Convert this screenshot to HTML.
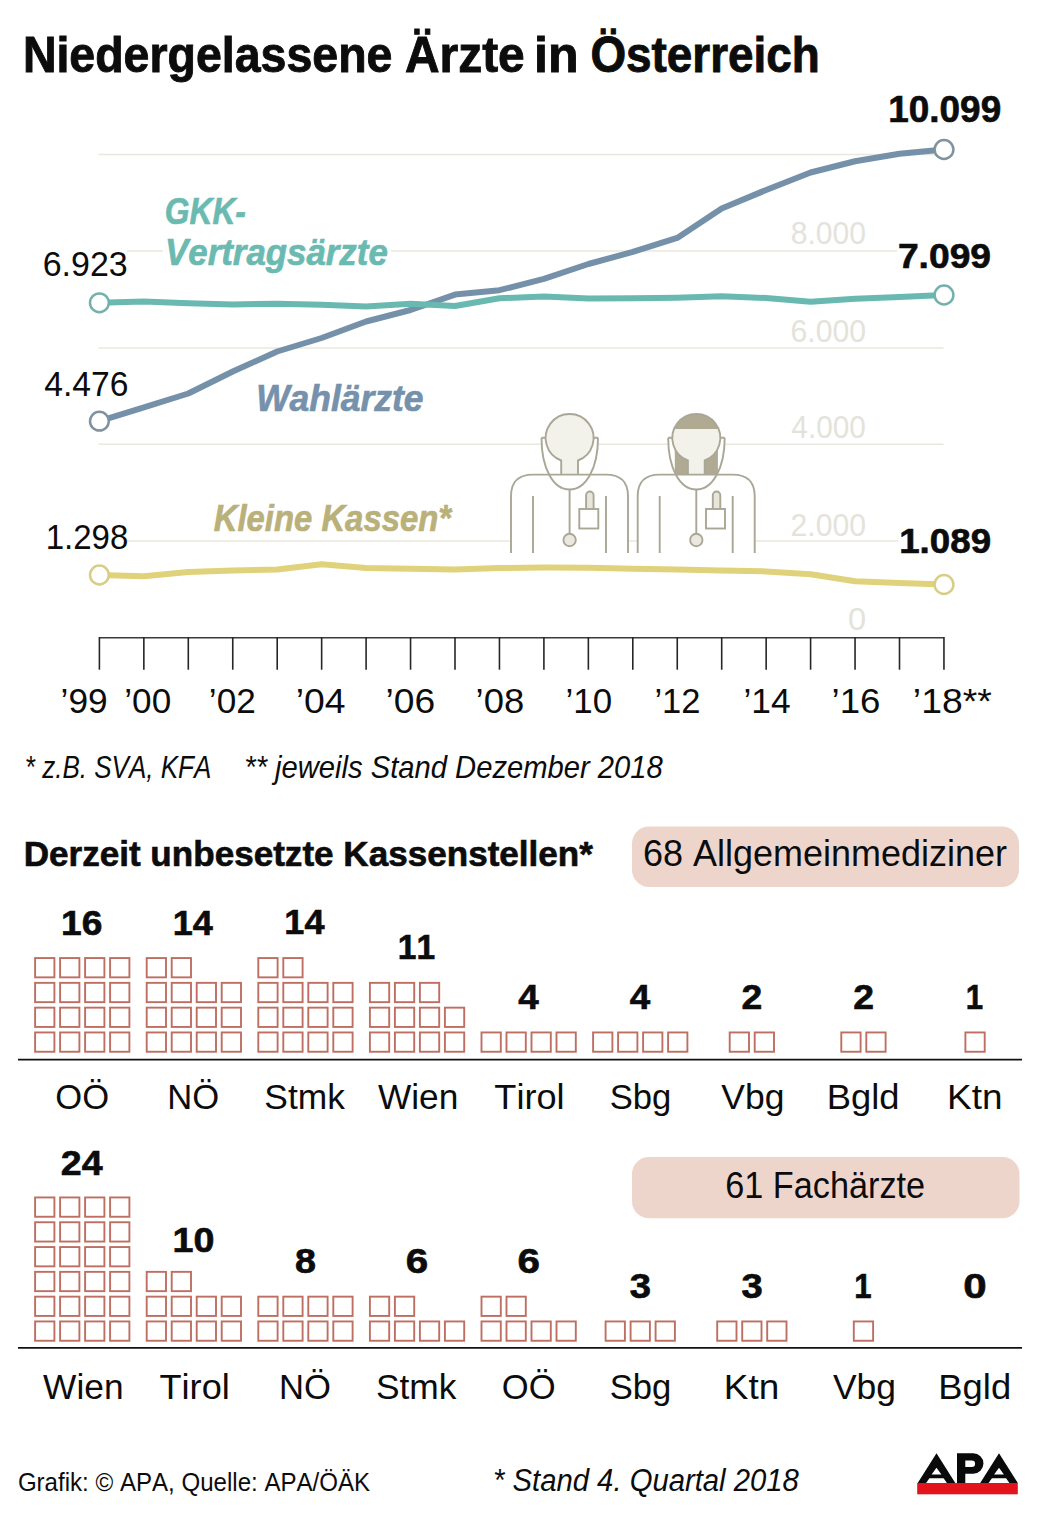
<!DOCTYPE html>
<html><head><meta charset="utf-8"><style>
html,body{margin:0;padding:0;background:#fff;}
svg{display:block;}
text{font-family:"Liberation Sans",sans-serif;font-kerning:none;}
</style></head><body>
<svg width="1040" height="1513" viewBox="0 0 1040 1513">
<rect width="1040" height="1513" fill="#fff"/>
<text x="22.89" y="72.00" font-size="50.00" font-weight="bold" font-style="normal" fill="#0c0c0c" textLength="369.50" lengthAdjust="spacingAndGlyphs" stroke="#0c0c0c" stroke-width="0.90">Niedergelassene</text>
<text x="405.01" y="72.00" font-size="50.00" font-weight="bold" font-style="normal" fill="#0c0c0c" textLength="119.73" lengthAdjust="spacingAndGlyphs" stroke="#0c0c0c" stroke-width="0.90">Ärzte</text>
<text x="534.00" y="72.00" font-size="50.00" font-weight="bold" font-style="normal" fill="#0c0c0c" textLength="44.50" lengthAdjust="spacingAndGlyphs" stroke="#0c0c0c" stroke-width="0.90">in</text>
<text x="590.42" y="72.00" font-size="50.00" font-weight="bold" font-style="normal" fill="#0c0c0c" textLength="229.43" lengthAdjust="spacingAndGlyphs" stroke="#0c0c0c" stroke-width="0.90">Österreich</text>
<line x1="98.5" y1="154.5" x2="943.5" y2="154.5" stroke="#e9e8de" stroke-width="1.5"/>
<line x1="127.0" y1="251.0" x2="163.0" y2="251.0" stroke="#e9e8de" stroke-width="1.5"/>
<line x1="391.0" y1="251.0" x2="897.0" y2="251.0" stroke="#e9e8de" stroke-width="1.5"/>
<line x1="98.5" y1="347.9" x2="943.5" y2="347.9" stroke="#e9e8de" stroke-width="1.5"/>
<line x1="98.5" y1="444.2" x2="943.5" y2="444.2" stroke="#e9e8de" stroke-width="1.5"/>
<line x1="127.0" y1="541.0" x2="898.0" y2="541.0" stroke="#e9e8de" stroke-width="1.5"/>
<text x="790.69" y="243.80" font-size="30.50" font-weight="normal" font-style="normal" fill="#e4e3db" textLength="75.28" lengthAdjust="spacingAndGlyphs">8.000</text>
<text x="790.47" y="341.60" font-size="30.50" font-weight="normal" font-style="normal" fill="#e4e3db" textLength="75.51" lengthAdjust="spacingAndGlyphs">6.000</text>
<text x="791.32" y="438.20" font-size="30.50" font-weight="normal" font-style="normal" fill="#e4e3db" textLength="74.65" lengthAdjust="spacingAndGlyphs">4.000</text>
<text x="790.48" y="535.50" font-size="30.50" font-weight="normal" font-style="normal" fill="#e4e3db" textLength="75.50" lengthAdjust="spacingAndGlyphs">2.000</text>
<text x="848.13" y="630.30" font-size="30.50" font-weight="normal" font-style="normal" fill="#e4e3db" textLength="18.15" lengthAdjust="spacingAndGlyphs">0</text>
<line x1="99.4" y1="637.7" x2="944" y2="637.7" stroke="#3a3a3a" stroke-width="1.6"/>
<line x1="99.40" y1="637" x2="99.40" y2="669.7" stroke="#262626" stroke-width="1.6"/>
<line x1="143.85" y1="637" x2="143.85" y2="669.7" stroke="#262626" stroke-width="1.6"/>
<line x1="188.30" y1="637" x2="188.30" y2="669.7" stroke="#262626" stroke-width="1.6"/>
<line x1="232.75" y1="637" x2="232.75" y2="669.7" stroke="#262626" stroke-width="1.6"/>
<line x1="277.20" y1="637" x2="277.20" y2="669.7" stroke="#262626" stroke-width="1.6"/>
<line x1="321.65" y1="637" x2="321.65" y2="669.7" stroke="#262626" stroke-width="1.6"/>
<line x1="366.10" y1="637" x2="366.10" y2="669.7" stroke="#262626" stroke-width="1.6"/>
<line x1="410.55" y1="637" x2="410.55" y2="669.7" stroke="#262626" stroke-width="1.6"/>
<line x1="455.00" y1="637" x2="455.00" y2="669.7" stroke="#262626" stroke-width="1.6"/>
<line x1="499.45" y1="637" x2="499.45" y2="669.7" stroke="#262626" stroke-width="1.6"/>
<line x1="543.90" y1="637" x2="543.90" y2="669.7" stroke="#262626" stroke-width="1.6"/>
<line x1="588.35" y1="637" x2="588.35" y2="669.7" stroke="#262626" stroke-width="1.6"/>
<line x1="632.80" y1="637" x2="632.80" y2="669.7" stroke="#262626" stroke-width="1.6"/>
<line x1="677.25" y1="637" x2="677.25" y2="669.7" stroke="#262626" stroke-width="1.6"/>
<line x1="721.70" y1="637" x2="721.70" y2="669.7" stroke="#262626" stroke-width="1.6"/>
<line x1="766.15" y1="637" x2="766.15" y2="669.7" stroke="#262626" stroke-width="1.6"/>
<line x1="810.60" y1="637" x2="810.60" y2="669.7" stroke="#262626" stroke-width="1.6"/>
<line x1="855.05" y1="637" x2="855.05" y2="669.7" stroke="#262626" stroke-width="1.6"/>
<line x1="899.50" y1="637" x2="899.50" y2="669.7" stroke="#262626" stroke-width="1.6"/>
<line x1="943.95" y1="637" x2="943.95" y2="669.7" stroke="#262626" stroke-width="1.6"/>
<text x="60.61" y="713.00" font-size="35.00" font-weight="normal" font-style="normal" fill="#0c0c0c" textLength="47.06" lengthAdjust="spacingAndGlyphs">’99</text>
<text x="124.32" y="713.00" font-size="35.00" font-weight="normal" font-style="normal" fill="#0c0c0c" textLength="46.85" lengthAdjust="spacingAndGlyphs">’00</text>
<text x="208.82" y="713.00" font-size="35.00" font-weight="normal" font-style="normal" fill="#0c0c0c" textLength="46.95" lengthAdjust="spacingAndGlyphs">’02</text>
<text x="295.69" y="713.00" font-size="35.00" font-weight="normal" font-style="normal" fill="#0c0c0c" textLength="49.81" lengthAdjust="spacingAndGlyphs">’04</text>
<text x="385.59" y="713.00" font-size="35.00" font-weight="normal" font-style="normal" fill="#0c0c0c" textLength="49.64" lengthAdjust="spacingAndGlyphs">’06</text>
<text x="475.54" y="713.00" font-size="35.00" font-weight="normal" font-style="normal" fill="#0c0c0c" textLength="48.64" lengthAdjust="spacingAndGlyphs">’08</text>
<text x="565.53" y="713.00" font-size="35.00" font-weight="normal" font-style="normal" fill="#0c0c0c" textLength="46.63" lengthAdjust="spacingAndGlyphs">’10</text>
<text x="654.46" y="713.00" font-size="35.00" font-weight="normal" font-style="normal" fill="#0c0c0c" textLength="46.08" lengthAdjust="spacingAndGlyphs">’12</text>
<text x="743.41" y="713.00" font-size="35.00" font-weight="normal" font-style="normal" fill="#0c0c0c" textLength="47.12" lengthAdjust="spacingAndGlyphs">’14</text>
<text x="831.53" y="713.00" font-size="35.00" font-weight="normal" font-style="normal" fill="#0c0c0c" textLength="48.88" lengthAdjust="spacingAndGlyphs">’16</text>
<text x="912.88" y="713.00" font-size="35.00" font-weight="normal" font-style="normal" fill="#0c0c0c" textLength="79.00" lengthAdjust="spacingAndGlyphs">’18**</text>
<g transform="translate(0.0,0)">
<path d="M511,553 L511,496 Q511,474.6 533,474.6 L606,474.6 Q628,474.6 628,496 L628,553 Z" fill="#fff"/>
<path d="M541.5,437.7 C541.5,468 553,489.5 569.6,489.5 C586,489.5 598,468 598,437.7 Z" fill="#fff"/>
<path d="M561.2,474 L561.2,460.5 A24,24 0 1,1 578,460.5 L578,474 Z" fill="#f2f1ea"/>
<path d="M561.2,474 L561.2,460.5 A24,24 0 1,1 578,460.5 L578,474" fill="none" stroke="#aaa796" stroke-width="1.9"/>
<path d="M511,553 L511,496 Q511,474.6 533,474.6 L606,474.6 Q628,474.6 628,496 L628,553" fill="none" stroke="#aaa796" stroke-width="1.9"/>
<path d="M541.5,437.7 C541.5,468 553,489.5 569.6,489.5 C586,489.5 598,468 598,437.7 M541.5,437.7 L545.6,437.7 M598,437.7 L593.6,437.7" fill="none" stroke="#aaa796" stroke-width="1.9"/>
<path d="M533,496 L533,553 M606,496 L606,553 M569.6,489.5 L569.6,533.5" fill="none" stroke="#aaa796" stroke-width="1.9"/>
<circle cx="569.6" cy="540" r="6.2" fill="#ebe9df" stroke="#aaa796" stroke-width="1.9"/>
<rect x="586.1" y="491.5" width="7.5" height="20" rx="3.75" fill="#e8e6da" stroke="#aaa796" stroke-width="1.9"/>
<rect x="579.3" y="509" width="19" height="19.5" fill="#fff" stroke="#aaa796" stroke-width="1.9"/>
</g>
<g transform="translate(126.7,0)">
<path d="M511,553 L511,496 Q511,474.6 533,474.6 L606,474.6 Q628,474.6 628,496 L628,553 Z" fill="#fff"/>
<path d="M541.5,437.7 C541.5,468 553,489.5 569.6,489.5 C586,489.5 598,468 598,437.7 Z" fill="#fff"/>
<rect x="674.8" y="440" width="43.1" height="34" fill="#b0aa92" transform="translate(-126.7,0)"/>
<path d="M561.2,474 L561.2,460.5 A24,24 0 1,1 578,460.5 L578,474 Z" fill="#f2f1ea"/>
<path d="M547.3,429 A24,24 0 0,1 591.9,429 Z" fill="#b0aa92"/>
<path d="M545.6,440 A24,24 0 0,0 561.2,460.5 L561.2,474 L578,474 L578,460.5 A24,24 0 0,0 593.6,440 Z" fill="none"/>
<path d="M561.2,474 L561.2,460.5 A24,24 0 1,1 578,460.5 L578,474" fill="none" stroke="#aaa796" stroke-width="1.9"/>
<path d="M511,553 L511,496 Q511,474.6 533,474.6 L606,474.6 Q628,474.6 628,496 L628,553" fill="none" stroke="#aaa796" stroke-width="1.9"/>
<path d="M541.5,437.7 C541.5,468 553,489.5 569.6,489.5 C586,489.5 598,468 598,437.7 M541.5,437.7 L545.6,437.7 M598,437.7 L593.6,437.7" fill="none" stroke="#aaa796" stroke-width="1.9"/>
<path d="M533,496 L533,553 M606,496 L606,553 M569.6,489.5 L569.6,533.5" fill="none" stroke="#aaa796" stroke-width="1.9"/>
<circle cx="569.6" cy="540" r="6.2" fill="#ebe9df" stroke="#aaa796" stroke-width="1.9"/>
<rect x="586.1" y="491.5" width="7.5" height="20" rx="3.75" fill="#e8e6da" stroke="#aaa796" stroke-width="1.9"/>
<rect x="579.3" y="509" width="19" height="19.5" fill="#fff" stroke="#aaa796" stroke-width="1.9"/>
</g>
<polyline points="99.4,575.00 143.9,576.25 188.3,572.00 232.8,570.50 277.2,569.50 321.6,564.25 366.1,568.00 410.6,568.75 455.0,569.50 499.5,568.00 543.9,567.50 588.4,567.80 632.8,568.70 677.2,569.60 721.7,570.50 766.1,571.40 810.6,574.20 855.1,581.30 899.5,583.00 944.0,584.50" fill="none" stroke="#e0d27a" stroke-width="6" stroke-linejoin="round"/>
<polyline points="99.4,421.20 143.9,407.30 188.3,393.50 232.8,371.50 277.2,351.50 321.6,338.00 366.1,321.50 410.6,310.00 455.0,294.60 499.5,290.20 543.9,278.90 588.4,264.00 632.8,251.90 677.2,237.90 721.7,208.50 766.1,190.00 810.6,172.50 855.1,161.25 899.5,153.75 944.0,149.50" fill="none" stroke="#7591aa" stroke-width="6" stroke-linejoin="round"/>
<polyline points="99.4,302.80 143.9,301.60 188.3,303.20 232.8,304.50 277.2,303.70 321.6,304.80 366.1,306.50 410.6,303.70 455.0,306.00 499.5,298.20 543.9,296.60 588.4,298.50 632.8,298.20 677.2,297.70 721.7,296.25 766.1,298.00 810.6,301.75 855.1,298.75 899.5,297.00 944.0,295.00" fill="none" stroke="#69b9b1" stroke-width="6" stroke-linejoin="round"/>
<circle cx="99.4" cy="575.00" r="9.4" fill="#fff" stroke="#d9cd86" stroke-width="2.5"/>
<circle cx="944.0" cy="584.50" r="9.4" fill="#fff" stroke="#d9cd86" stroke-width="2.5"/>
<circle cx="99.4" cy="421.20" r="9.4" fill="#fff" stroke="#7f929e" stroke-width="2.5"/>
<circle cx="944.0" cy="149.50" r="9.4" fill="#fff" stroke="#7f929e" stroke-width="2.5"/>
<circle cx="99.4" cy="302.80" r="9.4" fill="#fff" stroke="#72b1ac" stroke-width="2.5"/>
<circle cx="944.0" cy="295.00" r="9.4" fill="#fff" stroke="#72b1ac" stroke-width="2.5"/>
<text x="42.67" y="275.60" font-size="34.50" font-weight="normal" font-style="normal" fill="#0c0c0c" textLength="85.02" lengthAdjust="spacingAndGlyphs">6.923</text>
<text x="44.23" y="396.20" font-size="35.00" font-weight="normal" font-style="normal" fill="#0c0c0c" textLength="84.25" lengthAdjust="spacingAndGlyphs">4.476</text>
<text x="45.68" y="548.60" font-size="35.00" font-weight="normal" font-style="normal" fill="#0c0c0c" textLength="82.65" lengthAdjust="spacingAndGlyphs">1.298</text>
<text x="888.28" y="121.80" font-size="36.00" font-weight="bold" font-style="normal" fill="#0c0c0c" textLength="112.89" lengthAdjust="spacingAndGlyphs" stroke="#0c0c0c" stroke-width="0.65">10.099</text>
<text x="897.90" y="268.40" font-size="35.50" font-weight="bold" font-style="normal" fill="#0c0c0c" textLength="93.18" lengthAdjust="spacingAndGlyphs" stroke="#0c0c0c" stroke-width="0.64">7.099</text>
<text x="899.19" y="553.40" font-size="35.50" font-weight="bold" font-style="normal" fill="#0c0c0c" textLength="91.88" lengthAdjust="spacingAndGlyphs" stroke="#0c0c0c" stroke-width="0.64">1.089</text>
<text x="164.75" y="223.50" font-size="36.50" font-weight="bold" font-style="italic" fill="#6bbab1" textLength="81.17" lengthAdjust="spacingAndGlyphs" stroke="#6bbab1" stroke-width="0.66">GKK-</text>
<text x="165.09" y="264.80" font-size="36.50" font-weight="bold" font-style="italic" fill="#6bbab1" textLength="222.68" lengthAdjust="spacingAndGlyphs" stroke="#6bbab1" stroke-width="0.66">Vertragsärzte</text>
<text x="256.16" y="411.25" font-size="36.50" font-weight="bold" font-style="italic" fill="#7591ab" textLength="167.33" lengthAdjust="spacingAndGlyphs" stroke="#7591ab" stroke-width="0.66">Wahlärzte</text>
<text x="213.72" y="530.80" font-size="36.50" font-weight="bold" font-style="italic" fill="#bab07a" textLength="237.29" lengthAdjust="spacingAndGlyphs" stroke="#bab07a" stroke-width="0.66">Kleine Kassen*</text>
<text x="24.77" y="777.60" font-size="32.00" font-weight="normal" font-style="italic" fill="#0c0c0c" textLength="186.62" lengthAdjust="spacingAndGlyphs">* z.B. SVA, KFA</text>
<text x="244.29" y="777.60" font-size="32.00" font-weight="normal" font-style="italic" fill="#0c0c0c" textLength="418.38" lengthAdjust="spacingAndGlyphs">** jeweils Stand Dezember 2018</text>
<text x="23.65" y="866.20" font-size="35.00" font-weight="bold" font-style="normal" fill="#0c0c0c" textLength="569.28" lengthAdjust="spacingAndGlyphs" stroke="#0c0c0c" stroke-width="0.63">Derzeit unbesetzte Kassenstellen*</text>
<rect x="632" y="826.5" width="387" height="60.5" rx="17" fill="#eed5cc"/>
<text x="643.07" y="866.20" font-size="36.00" font-weight="normal" font-style="normal" fill="#0c0c0c" textLength="363.82" lengthAdjust="spacingAndGlyphs">68 Allgemeinmediziner</text>
<rect x="632" y="1157" width="387.5" height="61.3" rx="17" fill="#eed5cc"/>
<text x="725.16" y="1198.00" font-size="36.00" font-weight="normal" font-style="normal" fill="#0c0c0c" textLength="199.96" lengthAdjust="spacingAndGlyphs">61 Fachärzte</text>
<line x1="18" y1="1059.7" x2="1022" y2="1059.7" stroke="#111" stroke-width="1.7"/>
<rect x="35.10" y="1032.45" width="19.3" height="19.3" fill="none" stroke="#be6f62" stroke-width="1.9"/>
<rect x="60.10" y="1032.45" width="19.3" height="19.3" fill="none" stroke="#be6f62" stroke-width="1.9"/>
<rect x="85.10" y="1032.45" width="19.3" height="19.3" fill="none" stroke="#be6f62" stroke-width="1.9"/>
<rect x="110.10" y="1032.45" width="19.3" height="19.3" fill="none" stroke="#be6f62" stroke-width="1.9"/>
<rect x="35.10" y="1007.65" width="19.3" height="19.3" fill="none" stroke="#be6f62" stroke-width="1.9"/>
<rect x="60.10" y="1007.65" width="19.3" height="19.3" fill="none" stroke="#be6f62" stroke-width="1.9"/>
<rect x="85.10" y="1007.65" width="19.3" height="19.3" fill="none" stroke="#be6f62" stroke-width="1.9"/>
<rect x="110.10" y="1007.65" width="19.3" height="19.3" fill="none" stroke="#be6f62" stroke-width="1.9"/>
<rect x="35.10" y="982.85" width="19.3" height="19.3" fill="none" stroke="#be6f62" stroke-width="1.9"/>
<rect x="60.10" y="982.85" width="19.3" height="19.3" fill="none" stroke="#be6f62" stroke-width="1.9"/>
<rect x="85.10" y="982.85" width="19.3" height="19.3" fill="none" stroke="#be6f62" stroke-width="1.9"/>
<rect x="110.10" y="982.85" width="19.3" height="19.3" fill="none" stroke="#be6f62" stroke-width="1.9"/>
<rect x="35.10" y="958.05" width="19.3" height="19.3" fill="none" stroke="#be6f62" stroke-width="1.9"/>
<rect x="60.10" y="958.05" width="19.3" height="19.3" fill="none" stroke="#be6f62" stroke-width="1.9"/>
<rect x="85.10" y="958.05" width="19.3" height="19.3" fill="none" stroke="#be6f62" stroke-width="1.9"/>
<rect x="110.10" y="958.05" width="19.3" height="19.3" fill="none" stroke="#be6f62" stroke-width="1.9"/>
<text x="61.11" y="934.70" font-size="35.00" font-weight="bold" font-style="normal" fill="#0c0c0c" textLength="41.28" lengthAdjust="spacingAndGlyphs" stroke="#0c0c0c" stroke-width="0.63">16</text>
<text x="55.36" y="1109.00" font-size="35.50" font-weight="normal" font-style="normal" fill="#0c0c0c" textLength="53.79" lengthAdjust="spacingAndGlyphs">OÖ</text>
<rect x="146.70" y="1032.45" width="19.3" height="19.3" fill="none" stroke="#be6f62" stroke-width="1.9"/>
<rect x="171.70" y="1032.45" width="19.3" height="19.3" fill="none" stroke="#be6f62" stroke-width="1.9"/>
<rect x="196.70" y="1032.45" width="19.3" height="19.3" fill="none" stroke="#be6f62" stroke-width="1.9"/>
<rect x="221.70" y="1032.45" width="19.3" height="19.3" fill="none" stroke="#be6f62" stroke-width="1.9"/>
<rect x="146.70" y="1007.65" width="19.3" height="19.3" fill="none" stroke="#be6f62" stroke-width="1.9"/>
<rect x="171.70" y="1007.65" width="19.3" height="19.3" fill="none" stroke="#be6f62" stroke-width="1.9"/>
<rect x="196.70" y="1007.65" width="19.3" height="19.3" fill="none" stroke="#be6f62" stroke-width="1.9"/>
<rect x="221.70" y="1007.65" width="19.3" height="19.3" fill="none" stroke="#be6f62" stroke-width="1.9"/>
<rect x="146.70" y="982.85" width="19.3" height="19.3" fill="none" stroke="#be6f62" stroke-width="1.9"/>
<rect x="171.70" y="982.85" width="19.3" height="19.3" fill="none" stroke="#be6f62" stroke-width="1.9"/>
<rect x="196.70" y="982.85" width="19.3" height="19.3" fill="none" stroke="#be6f62" stroke-width="1.9"/>
<rect x="221.70" y="982.85" width="19.3" height="19.3" fill="none" stroke="#be6f62" stroke-width="1.9"/>
<rect x="146.70" y="958.05" width="19.3" height="19.3" fill="none" stroke="#be6f62" stroke-width="1.9"/>
<rect x="171.70" y="958.05" width="19.3" height="19.3" fill="none" stroke="#be6f62" stroke-width="1.9"/>
<text x="172.78" y="934.60" font-size="35.00" font-weight="bold" font-style="normal" fill="#0c0c0c" textLength="40.06" lengthAdjust="spacingAndGlyphs" stroke="#0c0c0c" stroke-width="0.63">14</text>
<text x="167.31" y="1109.00" font-size="35.50" font-weight="normal" font-style="normal" fill="#0c0c0c" textLength="51.89" lengthAdjust="spacingAndGlyphs">NÖ</text>
<rect x="258.30" y="1032.45" width="19.3" height="19.3" fill="none" stroke="#be6f62" stroke-width="1.9"/>
<rect x="283.30" y="1032.45" width="19.3" height="19.3" fill="none" stroke="#be6f62" stroke-width="1.9"/>
<rect x="308.30" y="1032.45" width="19.3" height="19.3" fill="none" stroke="#be6f62" stroke-width="1.9"/>
<rect x="333.30" y="1032.45" width="19.3" height="19.3" fill="none" stroke="#be6f62" stroke-width="1.9"/>
<rect x="258.30" y="1007.65" width="19.3" height="19.3" fill="none" stroke="#be6f62" stroke-width="1.9"/>
<rect x="283.30" y="1007.65" width="19.3" height="19.3" fill="none" stroke="#be6f62" stroke-width="1.9"/>
<rect x="308.30" y="1007.65" width="19.3" height="19.3" fill="none" stroke="#be6f62" stroke-width="1.9"/>
<rect x="333.30" y="1007.65" width="19.3" height="19.3" fill="none" stroke="#be6f62" stroke-width="1.9"/>
<rect x="258.30" y="982.85" width="19.3" height="19.3" fill="none" stroke="#be6f62" stroke-width="1.9"/>
<rect x="283.30" y="982.85" width="19.3" height="19.3" fill="none" stroke="#be6f62" stroke-width="1.9"/>
<rect x="308.30" y="982.85" width="19.3" height="19.3" fill="none" stroke="#be6f62" stroke-width="1.9"/>
<rect x="333.30" y="982.85" width="19.3" height="19.3" fill="none" stroke="#be6f62" stroke-width="1.9"/>
<rect x="258.30" y="958.05" width="19.3" height="19.3" fill="none" stroke="#be6f62" stroke-width="1.9"/>
<rect x="283.30" y="958.05" width="19.3" height="19.3" fill="none" stroke="#be6f62" stroke-width="1.9"/>
<text x="284.38" y="934.40" font-size="35.00" font-weight="bold" font-style="normal" fill="#0c0c0c" textLength="40.06" lengthAdjust="spacingAndGlyphs" stroke="#0c0c0c" stroke-width="0.63">14</text>
<text x="264.34" y="1109.00" font-size="35.50" font-weight="normal" font-style="normal" fill="#0c0c0c" textLength="80.55" lengthAdjust="spacingAndGlyphs">Stmk</text>
<rect x="369.90" y="1032.45" width="19.3" height="19.3" fill="none" stroke="#be6f62" stroke-width="1.9"/>
<rect x="394.90" y="1032.45" width="19.3" height="19.3" fill="none" stroke="#be6f62" stroke-width="1.9"/>
<rect x="419.90" y="1032.45" width="19.3" height="19.3" fill="none" stroke="#be6f62" stroke-width="1.9"/>
<rect x="444.90" y="1032.45" width="19.3" height="19.3" fill="none" stroke="#be6f62" stroke-width="1.9"/>
<rect x="369.90" y="1007.65" width="19.3" height="19.3" fill="none" stroke="#be6f62" stroke-width="1.9"/>
<rect x="394.90" y="1007.65" width="19.3" height="19.3" fill="none" stroke="#be6f62" stroke-width="1.9"/>
<rect x="419.90" y="1007.65" width="19.3" height="19.3" fill="none" stroke="#be6f62" stroke-width="1.9"/>
<rect x="444.90" y="1007.65" width="19.3" height="19.3" fill="none" stroke="#be6f62" stroke-width="1.9"/>
<rect x="369.90" y="982.85" width="19.3" height="19.3" fill="none" stroke="#be6f62" stroke-width="1.9"/>
<rect x="394.90" y="982.85" width="19.3" height="19.3" fill="none" stroke="#be6f62" stroke-width="1.9"/>
<rect x="419.90" y="982.85" width="19.3" height="19.3" fill="none" stroke="#be6f62" stroke-width="1.9"/>
<text x="397.78" y="958.80" font-size="35.00" font-weight="bold" font-style="normal" fill="#0c0c0c" textLength="37.35" lengthAdjust="spacingAndGlyphs" stroke="#0c0c0c" stroke-width="0.63">11</text>
<text x="377.89" y="1109.00" font-size="35.50" font-weight="normal" font-style="normal" fill="#0c0c0c" textLength="80.45" lengthAdjust="spacingAndGlyphs">Wien</text>
<rect x="481.50" y="1032.45" width="19.3" height="19.3" fill="none" stroke="#be6f62" stroke-width="1.9"/>
<rect x="506.50" y="1032.45" width="19.3" height="19.3" fill="none" stroke="#be6f62" stroke-width="1.9"/>
<rect x="531.50" y="1032.45" width="19.3" height="19.3" fill="none" stroke="#be6f62" stroke-width="1.9"/>
<rect x="556.50" y="1032.45" width="19.3" height="19.3" fill="none" stroke="#be6f62" stroke-width="1.9"/>
<text x="518.24" y="1008.50" font-size="35.00" font-weight="bold" font-style="normal" fill="#0c0c0c" textLength="20.45" lengthAdjust="spacingAndGlyphs" stroke="#0c0c0c" stroke-width="0.63">4</text>
<text x="494.34" y="1109.00" font-size="35.50" font-weight="normal" font-style="normal" fill="#0c0c0c" textLength="70.23" lengthAdjust="spacingAndGlyphs">Tirol</text>
<rect x="593.10" y="1032.45" width="19.3" height="19.3" fill="none" stroke="#be6f62" stroke-width="1.9"/>
<rect x="618.10" y="1032.45" width="19.3" height="19.3" fill="none" stroke="#be6f62" stroke-width="1.9"/>
<rect x="643.10" y="1032.45" width="19.3" height="19.3" fill="none" stroke="#be6f62" stroke-width="1.9"/>
<rect x="668.10" y="1032.45" width="19.3" height="19.3" fill="none" stroke="#be6f62" stroke-width="1.9"/>
<text x="629.84" y="1008.50" font-size="35.00" font-weight="bold" font-style="normal" fill="#0c0c0c" textLength="20.45" lengthAdjust="spacingAndGlyphs" stroke="#0c0c0c" stroke-width="0.63">4</text>
<text x="609.78" y="1109.00" font-size="35.50" font-weight="normal" font-style="normal" fill="#0c0c0c" textLength="61.60" lengthAdjust="spacingAndGlyphs">Sbg</text>
<rect x="729.70" y="1032.45" width="19.3" height="19.3" fill="none" stroke="#be6f62" stroke-width="1.9"/>
<rect x="754.70" y="1032.45" width="19.3" height="19.3" fill="none" stroke="#be6f62" stroke-width="1.9"/>
<text x="741.55" y="1008.60" font-size="35.00" font-weight="bold" font-style="normal" fill="#0c0c0c" textLength="20.79" lengthAdjust="spacingAndGlyphs" stroke="#0c0c0c" stroke-width="0.63">2</text>
<text x="721.34" y="1109.00" font-size="35.50" font-weight="normal" font-style="normal" fill="#0c0c0c" textLength="63.14" lengthAdjust="spacingAndGlyphs">Vbg</text>
<rect x="841.30" y="1032.45" width="19.3" height="19.3" fill="none" stroke="#be6f62" stroke-width="1.9"/>
<rect x="866.30" y="1032.45" width="19.3" height="19.3" fill="none" stroke="#be6f62" stroke-width="1.9"/>
<text x="853.15" y="1008.60" font-size="35.00" font-weight="bold" font-style="normal" fill="#0c0c0c" textLength="20.79" lengthAdjust="spacingAndGlyphs" stroke="#0c0c0c" stroke-width="0.63">2</text>
<text x="826.72" y="1109.00" font-size="35.50" font-weight="normal" font-style="normal" fill="#0c0c0c" textLength="72.83" lengthAdjust="spacingAndGlyphs">Bgld</text>
<rect x="965.40" y="1032.45" width="19.3" height="19.3" fill="none" stroke="#be6f62" stroke-width="1.9"/>
<text x="965.84" y="1008.60" font-size="35.00" font-weight="bold" font-style="normal" fill="#0c0c0c" textLength="17.33" lengthAdjust="spacingAndGlyphs" stroke="#0c0c0c" stroke-width="0.63">1</text>
<text x="947.02" y="1109.00" font-size="35.50" font-weight="normal" font-style="normal" fill="#0c0c0c" textLength="55.43" lengthAdjust="spacingAndGlyphs">Ktn</text>
<line x1="18" y1="1347.9" x2="1022" y2="1347.9" stroke="#111" stroke-width="1.7"/>
<rect x="35.10" y="1321.45" width="19.3" height="19.3" fill="none" stroke="#be6f62" stroke-width="1.9"/>
<rect x="60.10" y="1321.45" width="19.3" height="19.3" fill="none" stroke="#be6f62" stroke-width="1.9"/>
<rect x="85.10" y="1321.45" width="19.3" height="19.3" fill="none" stroke="#be6f62" stroke-width="1.9"/>
<rect x="110.10" y="1321.45" width="19.3" height="19.3" fill="none" stroke="#be6f62" stroke-width="1.9"/>
<rect x="35.10" y="1296.65" width="19.3" height="19.3" fill="none" stroke="#be6f62" stroke-width="1.9"/>
<rect x="60.10" y="1296.65" width="19.3" height="19.3" fill="none" stroke="#be6f62" stroke-width="1.9"/>
<rect x="85.10" y="1296.65" width="19.3" height="19.3" fill="none" stroke="#be6f62" stroke-width="1.9"/>
<rect x="110.10" y="1296.65" width="19.3" height="19.3" fill="none" stroke="#be6f62" stroke-width="1.9"/>
<rect x="35.10" y="1271.85" width="19.3" height="19.3" fill="none" stroke="#be6f62" stroke-width="1.9"/>
<rect x="60.10" y="1271.85" width="19.3" height="19.3" fill="none" stroke="#be6f62" stroke-width="1.9"/>
<rect x="85.10" y="1271.85" width="19.3" height="19.3" fill="none" stroke="#be6f62" stroke-width="1.9"/>
<rect x="110.10" y="1271.85" width="19.3" height="19.3" fill="none" stroke="#be6f62" stroke-width="1.9"/>
<rect x="35.10" y="1247.05" width="19.3" height="19.3" fill="none" stroke="#be6f62" stroke-width="1.9"/>
<rect x="60.10" y="1247.05" width="19.3" height="19.3" fill="none" stroke="#be6f62" stroke-width="1.9"/>
<rect x="85.10" y="1247.05" width="19.3" height="19.3" fill="none" stroke="#be6f62" stroke-width="1.9"/>
<rect x="110.10" y="1247.05" width="19.3" height="19.3" fill="none" stroke="#be6f62" stroke-width="1.9"/>
<rect x="35.10" y="1222.25" width="19.3" height="19.3" fill="none" stroke="#be6f62" stroke-width="1.9"/>
<rect x="60.10" y="1222.25" width="19.3" height="19.3" fill="none" stroke="#be6f62" stroke-width="1.9"/>
<rect x="85.10" y="1222.25" width="19.3" height="19.3" fill="none" stroke="#be6f62" stroke-width="1.9"/>
<rect x="110.10" y="1222.25" width="19.3" height="19.3" fill="none" stroke="#be6f62" stroke-width="1.9"/>
<rect x="35.10" y="1197.45" width="19.3" height="19.3" fill="none" stroke="#be6f62" stroke-width="1.9"/>
<rect x="60.10" y="1197.45" width="19.3" height="19.3" fill="none" stroke="#be6f62" stroke-width="1.9"/>
<rect x="85.10" y="1197.45" width="19.3" height="19.3" fill="none" stroke="#be6f62" stroke-width="1.9"/>
<rect x="110.10" y="1197.45" width="19.3" height="19.3" fill="none" stroke="#be6f62" stroke-width="1.9"/>
<text x="60.80" y="1175.40" font-size="35.00" font-weight="bold" font-style="normal" fill="#0c0c0c" textLength="41.80" lengthAdjust="spacingAndGlyphs" stroke="#0c0c0c" stroke-width="0.63">24</text>
<text x="43.09" y="1398.80" font-size="35.50" font-weight="normal" font-style="normal" fill="#0c0c0c" textLength="80.45" lengthAdjust="spacingAndGlyphs">Wien</text>
<rect x="146.70" y="1321.45" width="19.3" height="19.3" fill="none" stroke="#be6f62" stroke-width="1.9"/>
<rect x="171.70" y="1321.45" width="19.3" height="19.3" fill="none" stroke="#be6f62" stroke-width="1.9"/>
<rect x="196.70" y="1321.45" width="19.3" height="19.3" fill="none" stroke="#be6f62" stroke-width="1.9"/>
<rect x="221.70" y="1321.45" width="19.3" height="19.3" fill="none" stroke="#be6f62" stroke-width="1.9"/>
<rect x="146.70" y="1296.65" width="19.3" height="19.3" fill="none" stroke="#be6f62" stroke-width="1.9"/>
<rect x="171.70" y="1296.65" width="19.3" height="19.3" fill="none" stroke="#be6f62" stroke-width="1.9"/>
<rect x="196.70" y="1296.65" width="19.3" height="19.3" fill="none" stroke="#be6f62" stroke-width="1.9"/>
<rect x="221.70" y="1296.65" width="19.3" height="19.3" fill="none" stroke="#be6f62" stroke-width="1.9"/>
<rect x="146.70" y="1271.85" width="19.3" height="19.3" fill="none" stroke="#be6f62" stroke-width="1.9"/>
<rect x="171.70" y="1271.85" width="19.3" height="19.3" fill="none" stroke="#be6f62" stroke-width="1.9"/>
<text x="172.48" y="1252.30" font-size="35.00" font-weight="bold" font-style="normal" fill="#0c0c0c" textLength="41.92" lengthAdjust="spacingAndGlyphs" stroke="#0c0c0c" stroke-width="0.63">10</text>
<text x="159.54" y="1398.80" font-size="35.50" font-weight="normal" font-style="normal" fill="#0c0c0c" textLength="70.23" lengthAdjust="spacingAndGlyphs">Tirol</text>
<rect x="258.30" y="1321.45" width="19.3" height="19.3" fill="none" stroke="#be6f62" stroke-width="1.9"/>
<rect x="283.30" y="1321.45" width="19.3" height="19.3" fill="none" stroke="#be6f62" stroke-width="1.9"/>
<rect x="308.30" y="1321.45" width="19.3" height="19.3" fill="none" stroke="#be6f62" stroke-width="1.9"/>
<rect x="333.30" y="1321.45" width="19.3" height="19.3" fill="none" stroke="#be6f62" stroke-width="1.9"/>
<rect x="258.30" y="1296.65" width="19.3" height="19.3" fill="none" stroke="#be6f62" stroke-width="1.9"/>
<rect x="283.30" y="1296.65" width="19.3" height="19.3" fill="none" stroke="#be6f62" stroke-width="1.9"/>
<rect x="308.30" y="1296.65" width="19.3" height="19.3" fill="none" stroke="#be6f62" stroke-width="1.9"/>
<rect x="333.30" y="1296.65" width="19.3" height="19.3" fill="none" stroke="#be6f62" stroke-width="1.9"/>
<text x="294.95" y="1272.60" font-size="35.00" font-weight="bold" font-style="normal" fill="#0c0c0c" textLength="20.95" lengthAdjust="spacingAndGlyphs" stroke="#0c0c0c" stroke-width="0.63">8</text>
<text x="278.91" y="1398.80" font-size="35.50" font-weight="normal" font-style="normal" fill="#0c0c0c" textLength="51.89" lengthAdjust="spacingAndGlyphs">NÖ</text>
<rect x="369.90" y="1321.45" width="19.3" height="19.3" fill="none" stroke="#be6f62" stroke-width="1.9"/>
<rect x="394.90" y="1321.45" width="19.3" height="19.3" fill="none" stroke="#be6f62" stroke-width="1.9"/>
<rect x="419.90" y="1321.45" width="19.3" height="19.3" fill="none" stroke="#be6f62" stroke-width="1.9"/>
<rect x="444.90" y="1321.45" width="19.3" height="19.3" fill="none" stroke="#be6f62" stroke-width="1.9"/>
<rect x="369.90" y="1296.65" width="19.3" height="19.3" fill="none" stroke="#be6f62" stroke-width="1.9"/>
<rect x="394.90" y="1296.65" width="19.3" height="19.3" fill="none" stroke="#be6f62" stroke-width="1.9"/>
<text x="405.82" y="1272.60" font-size="35.00" font-weight="bold" font-style="normal" fill="#0c0c0c" textLength="22.43" lengthAdjust="spacingAndGlyphs" stroke="#0c0c0c" stroke-width="0.63">6</text>
<text x="375.94" y="1398.80" font-size="35.50" font-weight="normal" font-style="normal" fill="#0c0c0c" textLength="80.55" lengthAdjust="spacingAndGlyphs">Stmk</text>
<rect x="481.50" y="1321.45" width="19.3" height="19.3" fill="none" stroke="#be6f62" stroke-width="1.9"/>
<rect x="506.50" y="1321.45" width="19.3" height="19.3" fill="none" stroke="#be6f62" stroke-width="1.9"/>
<rect x="531.50" y="1321.45" width="19.3" height="19.3" fill="none" stroke="#be6f62" stroke-width="1.9"/>
<rect x="556.50" y="1321.45" width="19.3" height="19.3" fill="none" stroke="#be6f62" stroke-width="1.9"/>
<rect x="481.50" y="1296.65" width="19.3" height="19.3" fill="none" stroke="#be6f62" stroke-width="1.9"/>
<rect x="506.50" y="1296.65" width="19.3" height="19.3" fill="none" stroke="#be6f62" stroke-width="1.9"/>
<text x="517.42" y="1272.60" font-size="35.00" font-weight="bold" font-style="normal" fill="#0c0c0c" textLength="22.43" lengthAdjust="spacingAndGlyphs" stroke="#0c0c0c" stroke-width="0.63">6</text>
<text x="501.76" y="1398.80" font-size="35.50" font-weight="normal" font-style="normal" fill="#0c0c0c" textLength="53.79" lengthAdjust="spacingAndGlyphs">OÖ</text>
<rect x="605.60" y="1321.45" width="19.3" height="19.3" fill="none" stroke="#be6f62" stroke-width="1.9"/>
<rect x="630.60" y="1321.45" width="19.3" height="19.3" fill="none" stroke="#be6f62" stroke-width="1.9"/>
<rect x="655.60" y="1321.45" width="19.3" height="19.3" fill="none" stroke="#be6f62" stroke-width="1.9"/>
<text x="629.87" y="1298.40" font-size="35.00" font-weight="bold" font-style="normal" fill="#0c0c0c" textLength="21.26" lengthAdjust="spacingAndGlyphs" stroke="#0c0c0c" stroke-width="0.63">3</text>
<text x="609.78" y="1398.80" font-size="35.50" font-weight="normal" font-style="normal" fill="#0c0c0c" textLength="61.60" lengthAdjust="spacingAndGlyphs">Sbg</text>
<rect x="717.20" y="1321.45" width="19.3" height="19.3" fill="none" stroke="#be6f62" stroke-width="1.9"/>
<rect x="742.20" y="1321.45" width="19.3" height="19.3" fill="none" stroke="#be6f62" stroke-width="1.9"/>
<rect x="767.20" y="1321.45" width="19.3" height="19.3" fill="none" stroke="#be6f62" stroke-width="1.9"/>
<text x="741.47" y="1298.40" font-size="35.00" font-weight="bold" font-style="normal" fill="#0c0c0c" textLength="21.26" lengthAdjust="spacingAndGlyphs" stroke="#0c0c0c" stroke-width="0.63">3</text>
<text x="723.82" y="1398.80" font-size="35.50" font-weight="normal" font-style="normal" fill="#0c0c0c" textLength="55.43" lengthAdjust="spacingAndGlyphs">Ktn</text>
<rect x="853.80" y="1321.45" width="19.3" height="19.3" fill="none" stroke="#be6f62" stroke-width="1.9"/>
<text x="854.24" y="1298.40" font-size="35.00" font-weight="bold" font-style="normal" fill="#0c0c0c" textLength="17.33" lengthAdjust="spacingAndGlyphs" stroke="#0c0c0c" stroke-width="0.63">1</text>
<text x="832.94" y="1398.80" font-size="35.50" font-weight="normal" font-style="normal" fill="#0c0c0c" textLength="63.14" lengthAdjust="spacingAndGlyphs">Vbg</text>
<text x="963.39" y="1298.40" font-size="35.00" font-weight="bold" font-style="normal" fill="#0c0c0c" textLength="23.39" lengthAdjust="spacingAndGlyphs" stroke="#0c0c0c" stroke-width="0.63">0</text>
<text x="938.32" y="1398.80" font-size="35.50" font-weight="normal" font-style="normal" fill="#0c0c0c" textLength="72.83" lengthAdjust="spacingAndGlyphs">Bgld</text>
<text x="17.89" y="1490.90" font-size="25.00" font-weight="normal" font-style="normal" fill="#0c0c0c" textLength="352.28" lengthAdjust="spacingAndGlyphs">Grafik: © APA, Quelle: APA/ÖÄK</text>
<text x="492.99" y="1490.90" font-size="31.00" font-weight="normal" font-style="italic" fill="#0c0c0c" textLength="305.89" lengthAdjust="spacingAndGlyphs">* Stand 4. Quartal 2018</text>
<path d="M917.7,1483 L936.5,1453.3 L955.3,1483 Z M936.5,1467.7 L931.6,1474.6 L941.4,1474.6 Z M929.4,1478.2 L926.1,1483 L946.9,1483 L943.6,1478.2 Z" fill="#0a0a0a" fill-rule="evenodd"/>
<path d="M957,1483 L957,1453.3 L973.2,1453.3 A10.25,10.25 0 0 1 973.2,1473.8 L965.3,1473.8 L965.3,1483 Z M965.3,1460.5 L971.8,1460.5 A3.3,3.3 0 0 1 971.8,1467.1 L965.3,1467.1 Z" fill="#0a0a0a" fill-rule="evenodd"/>
<path d="M980.2,1483 L999.0,1453.3 L1017.8,1483 Z M999.0,1467.7 L994.1,1474.6 L1003.9,1474.6 Z M991.9,1478.2 L988.6,1483 L1009.4,1483 L1006.1,1478.2 Z" fill="#0a0a0a" fill-rule="evenodd"/>
<rect x="917.2" y="1483" width="100.6" height="11.3" fill="#e3131b"/>
</svg></body></html>
